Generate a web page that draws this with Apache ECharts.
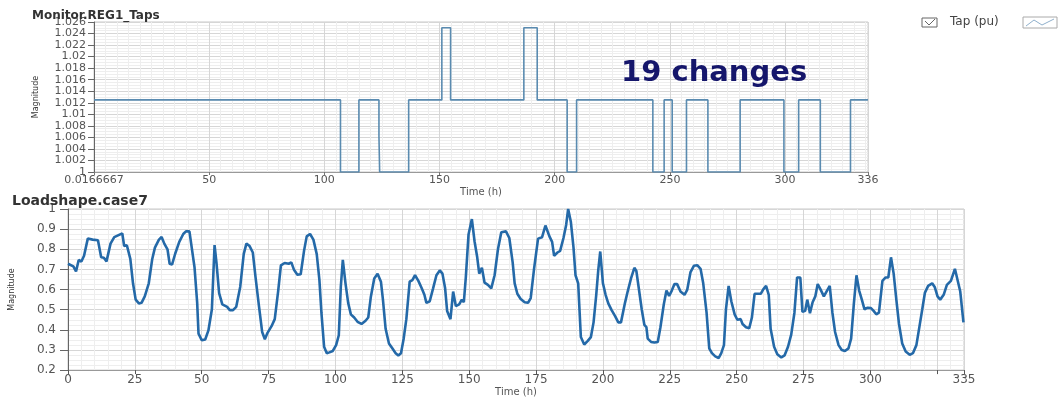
<!DOCTYPE html>
<html>
<head>
<meta charset="utf-8">
<script src="https://cdn.jsdelivr.net/npm/echarts@6/dist/echarts.min.js"></script>
<style>html,body{margin:0;padding:0;background:#fff}#c{width:1062px;height:398px}</style>
</head>
<body>
<div id="c"></div>
<script>
// ---- Top chart: regulator tap position (step changes) ----
var tapTimes = [0.0166667, 107, 115, 123.7, 124, 136.6, 151, 154.8, 186.6, 192.4, 205.4, 209.5, 242.6, 247.5, 251, 257.2, 266.5, 280.5, 299.5, 305.9, 315.3, 328.4, 336];
var tapValues = [1.0125, 1.0, 1.0125, 1.00625, 1.0, 1.0125, 1.025, 1.0125, 1.025, 1.0125, 1.0, 1.0125, 1.0, 1.0125, 1.0, 1.0125, 1.0, 1.0125, 1.0, 1.0125, 1.0, 1.0125, 1.0125];
var topXTickLabels = {0: '0.0166667'};

// ---- Bottom chart: load shape ----
var loadTimes = [0,2,3,4,5,6,7.4,9.2,11.2,12.4,13.4,14.4,15.9,17.3,20.3,21,22,23.3,24.3,25.3,26.5,27.5,28.7,30.2,31.5,32.5,34,35,36,37.2,38,38.9,40.1,41.6,43.1,44.1,45.4,47.3,48.3,48.8,50,51.3,52.5,53.8,54.8,55.5,56.5,57.7,59.5,60.5,61.7,62.9,64.4,65.7,66.7,67.9,69.1,70.1,71.4,72.6,73.6,74.6,76.1,77.3,78.6,79.6,81,82.5,83.5,84.5,85.75,87,88.25,89.25,90.5,91.75,93,94,94.75,95.75,96.75,97.75,99,100.25,101.25,102,102.75,103.75,104.75,105.75,107,108.25,109.75,111.25,112.25,113.25,114.5,115.75,117,117.75,118.75,120,121.25,122.5,123.5,124.5,125.5,126.5,127.75,128.75,129.75,131,132.25,133.25,134,135.25,136.5,137.75,139,140,141,141.75,143,144,145,146.25,147.25,148,148.75,149.75,151,152,153,153.75,154.75,155.75,157,158.25,159.5,160.75,162,163.75,165,166.25,167,168,169.25,170.75,172,173,174.25,175.75,177.25,178.5,180,181,181.75,183,184,185.25,186.25,187,188,189,189.75,190.75,191.75,193,194.25,195.5,196.5,197.5,198.25,199,200,201,202,203.25,204.5,205.75,206.75,208.25,209.25,210.5,211.75,212.5,213.5,214.5,215.5,216.25,216.75,218,219.25,220.5,221.5,222.75,223.75,224.75,225.75,226.75,227.75,229,230.5,231.5,232.75,234,235.25,236.5,237.5,238.75,239.75,240.75,242,243.25,244.25,245.25,246,247,248,249.25,250.25,251.5,252.2,253.5,254.7,255.7,256.7,257.7,259,260,261,262,262.7,264,265.2,266.7,267.9,269.2,270.4,271.6,272.6,273.8,274.6,275.6,276.4,277.4,278.4,279.4,280.3,281.3,282.6,283.8,284.8,285.8,286.8,288.1,289.3,290.5,291.8,292.8,293.8,294.8,295.8,296.8,297.8,299,300.2,301.2,302.2,303.2,304.5,305.7,306.7,307.7,308.7,309.7,310.7,311.9,313.2,314.7,315.9,317.2,318.4,319.4,320.4,321.6,323.1,324.1,325.1,326.1,327.4,328.6,330.1,331.6,332.3,333.6,334.8];
var loadValues = [0.728,0.715,0.69,0.747,0.739,0.768,0.853,0.848,0.845,0.76,0.758,0.74,0.828,0.86,0.879,0.816,0.82,0.752,0.631,0.55,0.531,0.534,0.566,0.631,0.752,0.808,0.848,0.861,0.828,0.8,0.728,0.724,0.779,0.837,0.876,0.889,0.889,0.711,0.534,0.381,0.348,0.352,0.397,0.502,0.821,0.735,0.582,0.526,0.514,0.498,0.498,0.514,0.614,0.776,0.828,0.816,0.784,0.663,0.518,0.389,0.353,0.385,0.418,0.453,0.595,0.72,0.732,0.728,0.735,0.698,0.674,0.676,0.792,0.864,0.876,0.848,0.776,0.647,0.485,0.316,0.284,0.288,0.295,0.324,0.373,0.614,0.747,0.631,0.534,0.477,0.461,0.44,0.429,0.445,0.461,0.566,0.655,0.679,0.639,0.55,0.405,0.332,0.308,0.284,0.273,0.284,0.356,0.453,0.639,0.647,0.671,0.643,0.606,0.574,0.534,0.542,0.606,0.671,0.695,0.679,0.606,0.494,0.453,0.59,0.518,0.526,0.55,0.537,0.663,0.873,0.95,0.84,0.76,0.679,0.708,0.634,0.623,0.606,0.671,0.8,0.885,0.889,0.856,0.735,0.631,0.579,0.553,0.537,0.534,0.558,0.703,0.853,0.86,0.918,0.864,0.837,0.768,0.784,0.792,0.856,0.921,1.0,0.937,0.808,0.671,0.631,0.364,0.327,0.344,0.364,0.437,0.574,0.695,0.789,0.631,0.574,0.531,0.498,0.469,0.437,0.437,0.534,0.59,0.655,0.708,0.692,0.598,0.502,0.424,0.413,0.356,0.34,0.337,0.34,0.413,0.526,0.595,0.569,0.595,0.627,0.627,0.59,0.574,0.598,0.687,0.718,0.721,0.703,0.631,0.485,0.308,0.284,0.268,0.26,0.284,0.324,0.502,0.618,0.542,0.477,0.45,0.453,0.429,0.413,0.408,0.461,0.579,0.579,0.579,0.602,0.618,0.574,0.405,0.316,0.279,0.263,0.273,0.316,0.376,0.485,0.66,0.66,0.489,0.494,0.55,0.482,0.537,0.566,0.627,0.602,0.566,0.595,0.618,0.485,0.389,0.324,0.3,0.295,0.308,0.356,0.526,0.671,0.595,0.55,0.502,0.51,0.508,0.494,0.477,0.485,0.643,0.66,0.66,0.76,0.679,0.55,0.429,0.332,0.292,0.276,0.284,0.324,0.421,0.502,0.585,0.618,0.631,0.611,0.566,0.55,0.574,0.623,0.643,0.703,0.695,0.59,0.437];
var hiddenBottomLabels = [325];

var FONT = 'DejaVu Sans';
var tapData = tapTimes.map(function (t, i) { return [t, tapValues[i]]; });
var loadData = loadTimes.map(function (t, i) { return [t, loadValues[i]]; });

var minorLine = { lineStyle: { color: '#eeeeee', width: 1 } };
var majorLine = { lineStyle: { color: '#d6d6d6', width: 1 } };

var chart = echarts.init(document.getElementById('c'), null, { renderer: 'canvas' });
chart.setOption({
  animation: false,
  backgroundColor: '#fff',
  title: [
    { text: 'Monitor.REG1_Taps', left: 27, top: 5, textStyle: { fontFamily: FONT, fontWeight: 'bold', fontSize: 12, color: '#333' } },
    { text: 'Loadshape.case7', left: 7, top: 189, textStyle: { fontFamily: FONT, fontWeight: 'bold', fontSize: 14, color: '#333' } },
    { text: '19 changes', left: 616, top: 54, textStyle: { fontFamily: FONT, fontWeight: 'bold', fontSize: 29, color: '#15166b' } }
  ],
  grid: [
    { left: 94, top: 22, right: 194, height: 150, show: true, borderColor: '#c8c8c8', borderWidth: 1, backgroundColor: 'transparent' },
    { left: 66, top: 209, right: 98, height: 165, show: true, borderColor: '#c8c8c8', borderWidth: 1, backgroundColor: 'transparent' }
  ],
  xAxis: [
    {
      type: 'value', gridIndex: 0, min: 0, max: 336, interval: 50,
      name: 'Time (h)', nameLocation: 'middle', nameGap: 15,
      nameTextStyle: { color: '#555', fontFamily: FONT, fontSize: 10 },
      axisLine: { show: true, lineStyle: { color: '#999' } },
      axisTick: { show: true, length: 3, lineStyle: { color: '#777' } },
      axisLabel: { margin: 3, fontSize: 11, showMaxLabel: true, showMinLabel: true, color: '#555', fontFamily: FONT,
        formatter: function (v) { return topXTickLabels[v] !== undefined ? topXTickLabels[v] : String(v); } },
      splitLine: majorLine,
      minorTick: { show: false, splitNumber: 10 },
      minorSplitLine: Object.assign({ show: true }, minorLine)
    },
    {
      type: 'value', gridIndex: 1, min: 0, max: 335, interval: 25,
      name: 'Time (h)', nameLocation: 'middle', nameGap: 16,
      nameTextStyle: { color: '#555', fontFamily: FONT, fontSize: 10 },
      axisLine: { show: true, lineStyle: { color: '#999' } },
      axisTick: { show: true, length: 4, lineStyle: { color: '#555' } },
      axisLabel: { margin: 4, fontSize: 12, color: '#555', fontFamily: FONT, showMaxLabel: true, showMinLabel: true,
        formatter: function (v) { return hiddenBottomLabels.indexOf(v) >= 0 ? '' : String(v); } },
      splitLine: majorLine,
      minorTick: { show: false, splitNumber: 5 },
      minorSplitLine: Object.assign({ show: true }, minorLine)
    }
  ],
  yAxis: [
    {
      type: 'value', gridIndex: 0, min: 1, max: 1.026, interval: 0.002,
      name: 'Magnitude', nameLocation: 'middle', nameGap: 54, nameRotate: 90,
      nameTextStyle: { color: '#333', fontFamily: FONT, fontSize: 8 },
      axisLine: { show: true, lineStyle: { color: '#666' } },
      axisTick: { show: true, length: 6, lineStyle: { color: '#666' } },
      axisLabel: { margin: 8, fontSize: 11, color: '#555', fontFamily: FONT },
      splitLine: majorLine,
      minorTick: { show: false, splitNumber: 4 },
      minorSplitLine: Object.assign({ show: true }, minorLine)
    },
    {
      type: 'value', gridIndex: 1, min: 0.2, max: 1, interval: 0.1,
      name: 'Magnitude', nameLocation: 'middle', nameGap: 52, nameRotate: 90,
      nameTextStyle: { color: '#333', fontFamily: FONT, fontSize: 8 },
      axisLine: { show: true, lineStyle: { color: '#666' } },
      axisTick: { show: true, length: 8, lineStyle: { color: '#666' } },
      axisLabel: { margin: 12, fontSize: 12, color: '#555', fontFamily: FONT },
      splitLine: majorLine,
      minorTick: { show: false, splitNumber: 4 },
      minorSplitLine: Object.assign({ show: true }, minorLine)
    }
  ],
  series: [
    {
      name: 'Tap (pu)', type: 'line', xAxisIndex: 0, yAxisIndex: 0, step: 'end',
      data: tapData, showSymbol: false, symbol: 'none',
      lineStyle: { color: '#5a8bb0', width: 1.6 }
    },
    {
      name: 'Load', type: 'line', xAxisIndex: 1, yAxisIndex: 1,
      data: loadData, showSymbol: false, symbol: 'none', smooth: false,
      lineStyle: { color: '#2469a8', width: 2.6 }
    }
  ],
  graphic: [
    { type: 'rect', shape: { x: 922, y: 18, width: 15, height: 9 }, style: { fill: '#fff', stroke: '#666', lineWidth: 1 } },
    { type: 'polyline', shape: { points: [[925, 21], [929, 25], [935, 19]] }, style: { stroke: '#666', fill: null, lineWidth: 1 } },
    { type: 'text', x: 950, y: 16, style: { text: 'Tap (pu)', fontSize: 12, fontFamily: FONT, fill: '#444' } },
    { type: 'rect', shape: { x: 1023, y: 17, width: 34, height: 11 }, style: { fill: '#fff', stroke: '#aaa', lineWidth: 1 } },
    { type: 'polyline', shape: { points: [[1026, 26], [1034, 20], [1042, 25], [1054, 19]] }, style: { stroke: '#8fb0cc', fill: null, lineWidth: 1 } }
  ]
});
</script>
</body>
</html>
